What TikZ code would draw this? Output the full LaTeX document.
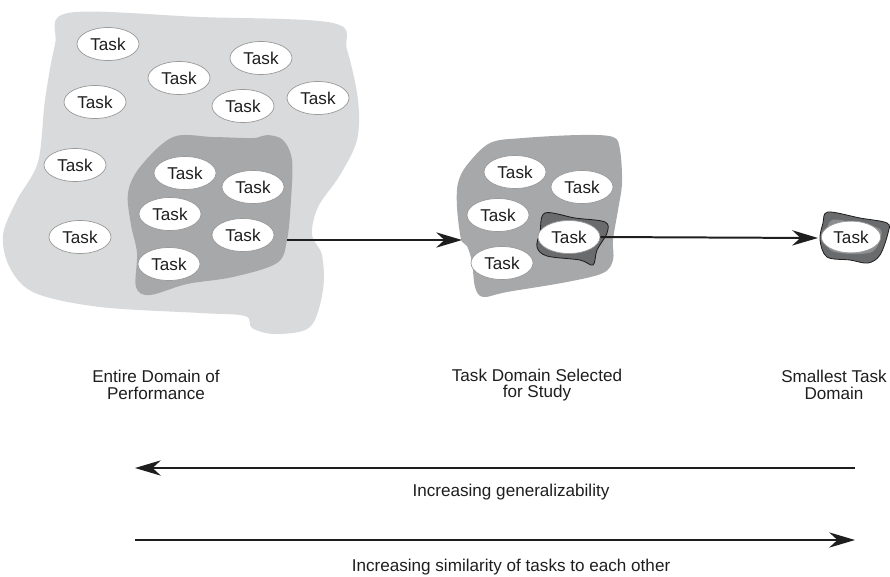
\documentclass[tikz,border=0pt]{standalone}
\usepackage{fontspec}
\setmainfont{Liberation Sans}
\usetikzlibrary{arrows.meta,shapes.geometric}

\definecolor{domainlight}{HTML}{D9DADB}
\definecolor{domainmid}{HTML}{A7A8AA}
\definecolor{domaindark}{HTML}{6A6B6D}
\definecolor{domaininner}{HTML}{8C8D8F}
\definecolor{taskedge}{HTML}{9A9A9A}
\definecolor{inkline}{HTML}{1E1E1E}

\tikzset{
  task/.style={ellipse, fill=white, draw=taskedge, line width=0.6pt,
    minimum width=1.86cm, minimum height=0.99cm, inner sep=0pt,
    font=\fontsize{14.6}{16}\selectfont, text=inkline},
  blob/.style={smooth cycle, tension=0.55},
  flow/.style={draw=inkline, line width=1.7pt,
    -{Stealth[length=22pt,width=13pt,inset=7pt]}},
  caption/.style={align=center, font=\fontsize{14.6}{14}\selectfont, text=inkline},
}

\begin{document}
\begin{tikzpicture}[x=0.03cm, y=-0.03cm]
\useasboundingbox (0,0) rectangle (890,576);

% whole domain of performance
\fill[domainlight] plot[blob] coordinates {
  (68,13) (200,17) (333,23) (347,50) (358,100) (357,140) (340,175)
  (318,207) (312,235) (322,255) (323,290) (310,327) (275,334) (252,328)
  (245,316) (200,313) (100,307) (35,293) (10,268) (3,235) (17,200)
  (38,162) (45,100) (55,45)};

% selected sub-domain inside it
\fill[domainmid] plot[blob] coordinates {
  (173,137) (213,137) (253,138) (267,135) (283,140) (292,160) (291,200)
  (287,240) (277,263) (233,277) (187,284) (150,295) (136,287) (137,253)
  (131,225) (128,193) (140,167)};

\node[task] (t1) at (108,44) {Task};
\node[task] (t2) at (179,78) {Task};
\node[task] (t3) at (261,58) {Task};
\node[task] (t4) at (95,102) {Task};
\node[task] (t5) at (243,106) {Task};
\node[task] (t6) at (318,98) {Task};
\node[task] (t7) at (75,165) {Task};
\node[task] (t8) at (80,237) {Task};
\node[task] (s1) at (185,173) {Task};
\node[task] (s2) at (253,187) {Task};
\node[task] (s3) at (170,214) {Task};
\node[task] (s4) at (243,235) {Task};
\node[task] (s5) at (169,264) {Task};

% task domain selected for study
\fill[domainmid] plot[blob] coordinates {
  (490,143) (523,138) (580,135) (613,137) (620,150) (622,183) (618,210)
  (613,240) (613,260) (603,273) (567,282) (507,292) (483,297) (475,287)
  (472,262) (467,246) (461,239) (457,207) (458,183) (467,165)};

\node[task] (m1) at (515,172) {Task};
\node[task] (m2) at (582,187) {Task};
\node[task] (m3) at (498,215) {Task};
\node[task] (m5) at (502,263) {Task};
\filldraw[fill=domaindark, draw=inkline, line width=0.7pt] plot[blob] coordinates {
  (545,213) (575,218) (605,222) (607,233) (597,250) (593,265) (580,260)
  (547,256) (537,247) (540,232)};
\node[task] (m4) at (569,237) {Task};

% smallest task domain
\filldraw[fill=domaindark, draw=inkline, line width=0.7pt] plot[blob] coordinates {
  (828,212) (860,218) (887,223) (888,233) (880,255) (868,263) (850,260)
  (827,257) (820,240) (823,223)};
\fill[domaininner] plot[blob] coordinates {
  (832,220) (860,224) (880,229) (880,240) (872,252) (850,254) (830,250)
  (826,236)};
\node[task, minimum width=1.78cm, minimum height=0.95cm] (r1) at (851,237) {Task};

% arrows between the domains
\coordinate (subEdge) at (287,240);
\coordinate (midEdge) at (462,240);
\coordinate (rightEdge) at (818,238);
\draw[flow] (subEdge) -- (midEdge);
\draw[flow] (m4.east) -- (rightEdge);

% captions
\node[caption] (c1) at (156,385) {Entire Domain of\\Performance};
\node[caption] (c2) at (537,385) {Task Domain Selected\\for Study};
\node[caption] (c3) at (834,385) {Smallest Task\\Domain};

% scale arrows
\coordinate (gA) at (855,468);
\coordinate (gB) at (135,468);
\coordinate (sA) at (135,540);
\coordinate (sB) at (855,540);
\draw[flow] (gA) -- (gB);
\draw[flow] (sA) -- (sB);
\node[caption] (g) at (511,492) {Increasing generalizability};
\node[caption] (s) at (511,567) {Increasing similarity of tasks to each other};
\end{tikzpicture}
\end{document}
